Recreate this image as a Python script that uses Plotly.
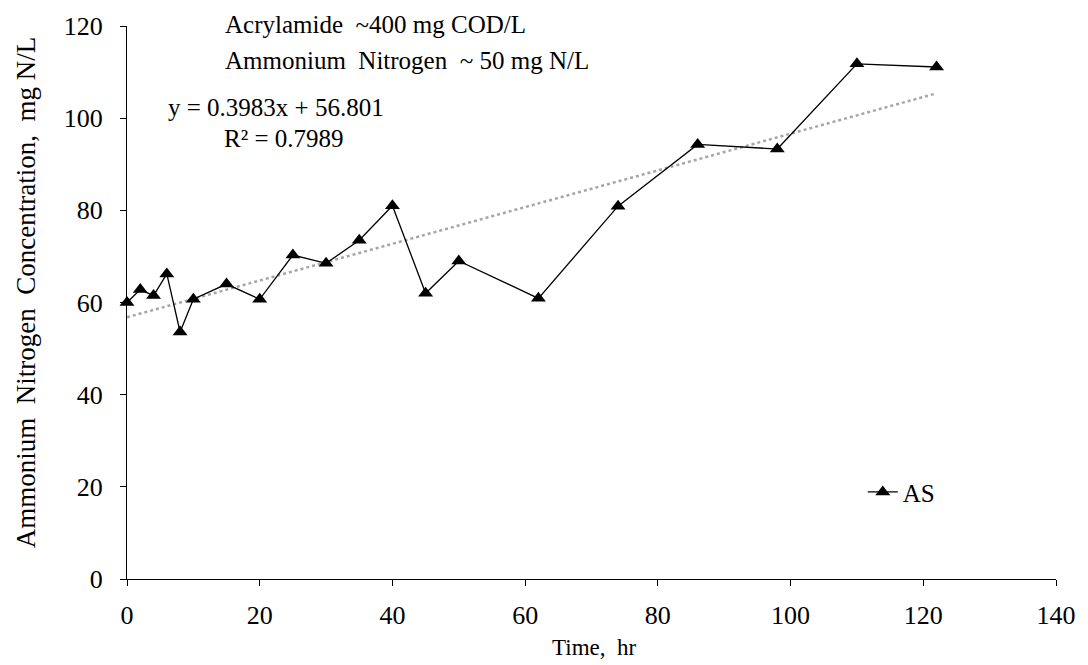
import plotly.graph_objects as go

# Data
time_hr = [0, 2, 4, 6, 8, 10, 15, 20, 25, 30, 35, 40, 45, 50, 62, 74, 86, 98, 110, 122]
nh4_as = [60, 62.8, 61.5, 66.2, 53.6, 60.7, 64, 60.7, 70.3, 68.5, 73.5, 81, 62, 69, 60.9, 80.9, 94.3, 93.3, 111.8, 111.1]
trend_slope = 0.3983
trend_intercept = 56.801
trend_x = [0, 122]
x_ticks = [0, 20, 40, 60, 80, 100, 120, 140]
y_ticks = [0, 20, 40, 60, 80, 100, 120]

FONT = "Liberation Serif, Times New Roman, serif"
FS_TICK = 26
FS_ANN = 25

fig = go.Figure()

fig.add_trace(go.Scatter(
    x=trend_x,
    y=[trend_slope * v + trend_intercept for v in trend_x],
    mode="lines",
    line=dict(color="#a6a6a6", width=2.5, dash="dot"),
    showlegend=False,
    hoverinfo="skip",
))

fig.add_trace(go.Scatter(
    x=time_hr, y=nh4_as,
    mode="lines+markers",
    name="AS",
    line=dict(color="black", width=1.3),
    marker=dict(symbol="triangle-up", size=13, color="black"),
    cliponaxis=False,
))

fig.update_layout(
    width=1088, height=665,
    margin=dict(l=127, r=27, t=25, b=86),
    paper_bgcolor="white", plot_bgcolor="white",
    font=dict(family=FONT, size=FS_TICK, color="black"),
    legend=dict(x=0.792, y=0.157, xanchor="left", yanchor="middle",
                bgcolor="rgba(0,0,0,0)", font=dict(size=FS_ANN)),
    annotations=[
        dict(x=0.103, y=1.002, xref="paper", yref="paper", xanchor="left", yanchor="middle",
             text="Acrylamide  ~400 mg COD/L", showarrow=False, font=dict(size=FS_ANN)),
        dict(x=0.103, y=0.937, xref="paper", yref="paper", xanchor="left", yanchor="middle",
             text="Ammonium  Nitrogen  ~ 50 mg N/L", showarrow=False, font=dict(size=FS_ANN)),
        dict(x=0.042, y=0.852, xref="paper", yref="paper", xanchor="left", yanchor="middle",
             text="y = 0.3983x + 56.801", showarrow=False, font=dict(size=FS_ANN)),
        dict(x=0.102, y=0.796, xref="paper", yref="paper", xanchor="left", yanchor="middle",
             text="R² = 0.7989", showarrow=False, font=dict(size=FS_ANN)),
        # axis titles
        dict(x=-0.109, y=0.518, xref="paper", yref="paper", xanchor="center", yanchor="middle",
             text="Ammonium  Nitrogen  Concentration,  mg N/L", textangle=-90,
             showarrow=False, font=dict(size=27)),
        dict(x=0.503, y=-0.1245, xref="paper", yref="paper", xanchor="center", yanchor="middle",
             text="Time,  hr", showarrow=False, font=dict(size=23)),
    ],
)

fig.update_xaxes(
    range=[0, 140], tickvals=x_ticks, showgrid=False, zeroline=False,
    showline=True, linecolor="black", linewidth=1.3,
    ticks="outside", ticklen=6, tickcolor="black",
    ticklabelstandoff=7,
    tickfont=dict(size=FS_TICK),
)
fig.update_yaxes(
    range=[0, 120], tickvals=y_ticks, showgrid=False, zeroline=False,
    showline=True, linecolor="black", linewidth=1.3,
    ticks="outside", ticklen=6, tickcolor="black",
    ticklabelstandoff=12,
    tickfont=dict(size=FS_TICK),
)

fig.write_html("out.html")
